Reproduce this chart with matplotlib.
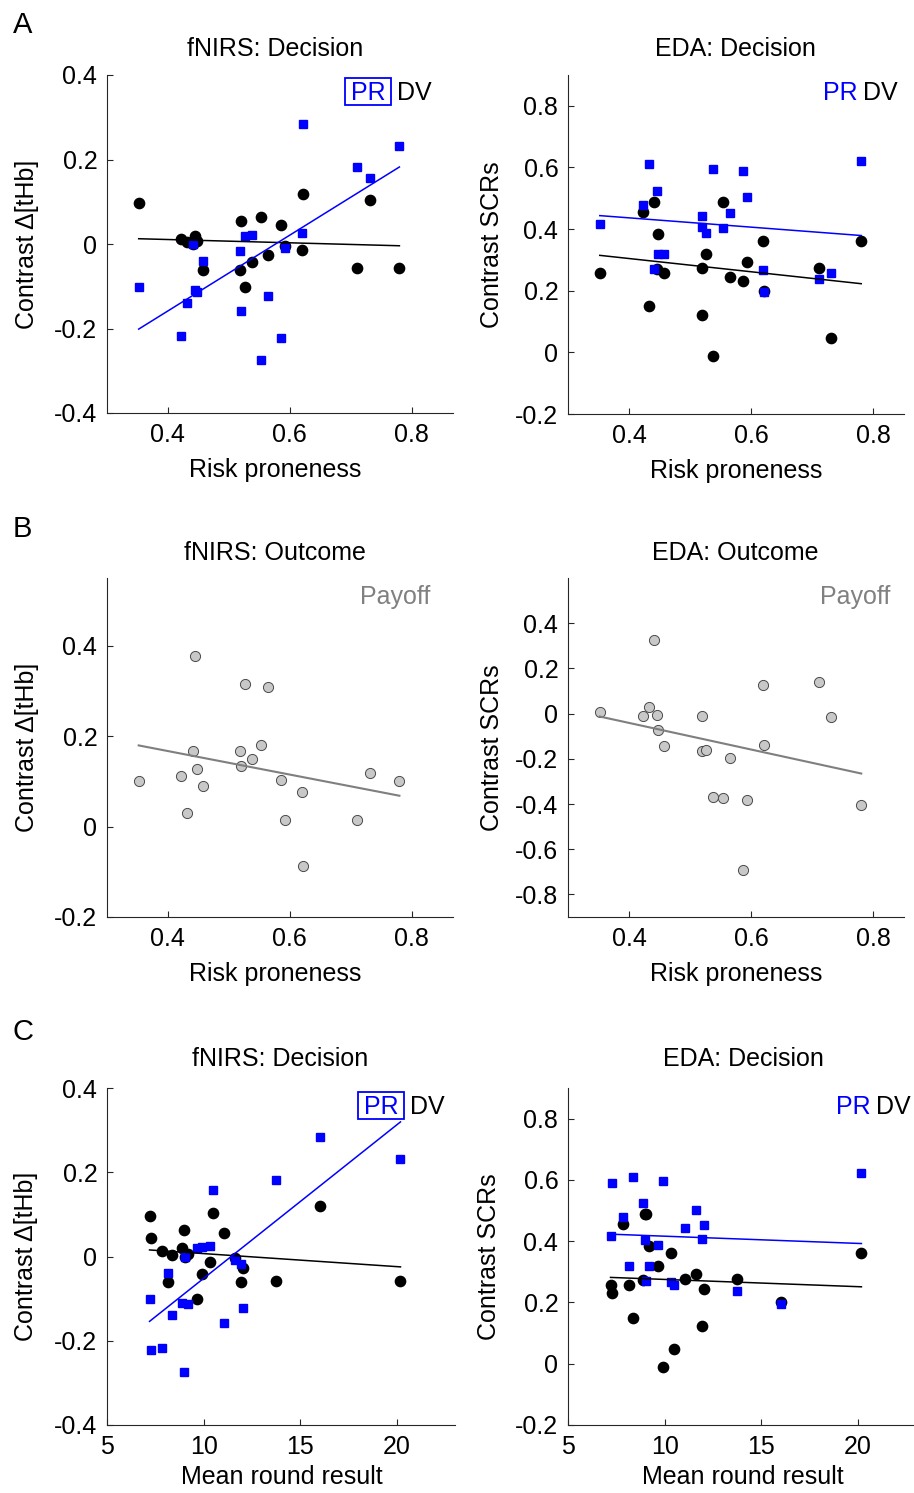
"""Risk proneness / mean round result vs. fNIRS and EDA contrasts (panels A-C)."""

import matplotlib

matplotlib.use("Agg")
import matplotlib.pyplot as plt
import numpy as np
from matplotlib.patches import Rectangle
from matplotlib.transforms import IdentityTransform

plt.rcParams["font.family"] = ["Liberation Sans", "DejaVu Sans"]
plt.rcParams["axes.unicode_minus"] = False

# One entry per participant (same order in every array)
RISK_PRONENESS = [0.352, 0.422, 0.432, 0.441, 0.445, 0.447, 0.457, 0.519, 0.520, 0.526,
                  0.538, 0.553, 0.565, 0.586, 0.593, 0.620, 0.621, 0.711, 0.731, 0.780]
MEAN_ROUND = [7.20, 7.84, 8.34, 9.04, 8.90, 9.18, 8.15, 11.95, 11.05, 9.68,
              9.90, 8.96, 12.01, 7.30, 11.60, 10.33, 16.00, 13.74, 10.50, 20.18]

# fNIRS decision contrast (Delta[tHb]) for the two conditions
FNIRS_PR = [-0.102, -0.217, -0.140, -0.001, -0.110, -0.113, -0.040, -0.017, -0.158, 0.020,
            0.022, -0.274, -0.123, -0.223, -0.009, 0.026, 0.284, 0.182, 0.157, 0.231]
FNIRS_DV = [0.096, 0.013, 0.004, 0.000, 0.020, 0.006, -0.061, -0.061, 0.055, -0.101,
            -0.042, 0.064, -0.027, 0.045, -0.004, -0.014, 0.119, -0.057, 0.103, -0.057]

# EDA decision contrast (SCRs)
EDA_PR = [0.418, 0.479, 0.611, 0.269, 0.525, 0.318, 0.318, 0.408, 0.444, 0.386,
          0.596, 0.404, 0.452, 0.590, 0.503, 0.267, 0.195, 0.238, 0.256, 0.621]
EDA_DV = [0.256, 0.457, 0.149, 0.489, 0.272, 0.384, 0.258, 0.122, 0.275, 0.318,
          -0.012, 0.489, 0.245, 0.232, 0.294, 0.362, 0.200, 0.275, 0.048, 0.362]

# Outcome (payoff) contrasts
FNIRS_PAYOFF = [0.100, 0.112, 0.031, 0.168, 0.378, 0.127, 0.089, 0.168, 0.133, 0.315,
                0.149, 0.181, 0.308, 0.104, 0.014, 0.077, -0.088, 0.014, 0.119, 0.100]
EDA_PAYOFF = [0.006, -0.012, 0.028, 0.326, -0.006, -0.073, -0.145, -0.009, -0.164, -0.160,
              -0.369, -0.373, -0.197, -0.690, -0.382, 0.127, -0.139, 0.142, -0.016, -0.404]

BLUE = "#0000ff"
AXCOL = "#262626"
GRAY_LINE = "#7f7f7f"
GRAY_FACE = "#c8c8c8"
GRAY_EDGE = "#4a4a4a"

W, H = 914, 1493
FS = 18
PIX = IdentityTransform()  # display pixels, origin bottom-left (dpi = 100)


def px_axes(fig, left, top, right, bottom):
    """Axes from pixel edges (origin top-left)."""
    return fig.add_axes((left / W, 1 - bottom / H, (right - left) / W, (bottom - top) / H))


def px_text(fig, x, y, s, **kw):
    """Text at image pixel position (origin top-left)."""
    return fig.text(x, H - y, s, transform=PIX, **kw)


def style(ax, xlim, ylim, yticks, xticks, ylabel, xlabel):
    ax.set_xlim(*xlim)
    ax.set_ylim(*ylim)
    ax.set_xticks(xticks)
    ax.set_yticks(yticks)
    ax.set_xticklabels([f"{t:g}" for t in xticks])
    ax.set_yticklabels([f"{t:g}" for t in yticks])
    for s in ("top", "right"):
        ax.spines[s].set_visible(False)
    for s in ("left", "bottom"):
        ax.spines[s].set_color(AXCOL)
        ax.spines[s].set_linewidth(0.8)
    ax.tick_params(direction="in", length=4, width=0.8, colors=AXCOL,
                   labelsize=FS, pad=7, labelcolor="black")
    ax.set_ylabel(ylabel, fontsize=FS)
    ax.set_xlabel(xlabel, fontsize=FS)


def fit_line(ax, x, y, color, lw):
    x = np.asarray(x)
    k, b = np.polyfit(x, y, 1)
    xs = np.array([x.min(), x.max()])
    ax.plot(xs, k * xs + b, color=color, lw=lw, zorder=4)


def decision(ax, x, pr, dv):
    ax.plot(x, dv, "o", ms=7.4, mfc="black", mec="black", ls="none", zorder=2)
    ax.plot(x, pr, "s", ms=6.2, mfc=BLUE, mec=BLUE, ls="none", zorder=3)
    fit_line(ax, x, dv, "black", 1.1)
    fit_line(ax, x, pr, BLUE, 1.1)


def pr_dv_label(fig, x_right, baseline, boxed):
    dv = px_text(fig, x_right, baseline, "DV", ha="right", va="baseline",
                 fontsize=FS, color="black", zorder=6)
    fig.canvas.draw()
    bb = dv.get_window_extent()
    pr_right = bb.x0 - (12 if boxed else 6)
    pr = px_text(fig, pr_right, baseline, "PR", ha="right", va="baseline",
                 fontsize=FS, color=BLUE, zorder=6)
    if boxed:
        fig.canvas.draw()
        pb = pr.get_window_extent()
        fig.patches.append(Rectangle((pb.x0 - 6, H - baseline - 5), pb.width + 12, 27,
                                     transform=PIX, fill=False, ec=BLUE, lw=1.3,
                                     zorder=6))


def outcome(ax, x, y):
    ax.plot(x, y, "o", ms=7.3, mfc=GRAY_FACE, mec=GRAY_EDGE, mew=0.7, ls="none", zorder=2)
    fit_line(ax, x, y, GRAY_LINE, 1.5)


def main():
    fig = plt.figure(figsize=(W / 100, H / 100), dpi=100)
    rp_ticks = [0.4, 0.6, 0.8]
    mr_ticks = [5, 10, 15, 20]
    fnirs_lab = "Contrast \u0394[tHb]"
    eda_lab = "Contrast SCRs"

    # A
    a1 = px_axes(fig, 107, 75, 453, 413)
    style(a1, (0.3, 0.868), (-0.4, 0.4), [-0.4, -0.2, 0, 0.2, 0.4], rp_ticks,
          fnirs_lab, "Risk proneness")
    decision(a1, RISK_PRONENESS, FNIRS_PR, FNIRS_DV)

    a2 = px_axes(fig, 568, 75, 904, 414)
    style(a2, (0.3, 0.85), (-0.2, 0.9), [-0.2, 0, 0.2, 0.4, 0.6, 0.8], rp_ticks,
          eda_lab, "Risk proneness")
    decision(a2, RISK_PRONENESS, EDA_PR, EDA_DV)

    # B
    b1 = px_axes(fig, 107, 578, 453, 917)
    style(b1, (0.3, 0.868), (-0.2, 0.55), [-0.2, 0, 0.2, 0.4], rp_ticks,
          fnirs_lab, "Risk proneness")
    outcome(b1, RISK_PRONENESS, FNIRS_PAYOFF)

    b2 = px_axes(fig, 568, 578, 904, 917)
    style(b2, (0.3, 0.85), (-0.9, 0.6), [-0.8, -0.6, -0.4, -0.2, 0, 0.2, 0.4], rp_ticks,
          eda_lab, "Risk proneness")
    outcome(b2, RISK_PRONENESS, EDA_PAYOFF)

    # C
    c1 = px_axes(fig, 107, 1088, 455, 1425)
    style(c1, (5, 23), (-0.4, 0.4), [-0.4, -0.2, 0, 0.2, 0.4], mr_ticks,
          fnirs_lab, "Mean round result")
    decision(c1, MEAN_ROUND, FNIRS_PR, FNIRS_DV)

    c2 = px_axes(fig, 568, 1088, 914, 1425)
    style(c2, (5, 22.9), (-0.2, 0.9), [-0.2, 0, 0.2, 0.4, 0.6, 0.8], mr_ticks,
          eda_lab, "Mean round result")
    decision(c2, MEAN_ROUND, EDA_PR, EDA_DV)

    for a in (a1, b1, c1):
        a.yaxis.set_label_coords(-0.197, 0.5)
    for a in (a2, b2):
        a.yaxis.set_label_coords(-0.19, 0.5)
    c2.yaxis.set_label_coords(-0.194, 0.5)
    for a in (a1, b1):
        a.xaxis.set_label_coords(0.486, -0.132)
    for a in (a2, b2):
        a.xaxis.set_label_coords(0.5, -0.132)
    c1.xaxis.set_label_coords(0.503, -0.118)
    c2.xaxis.set_label_coords(0.506, -0.118)

    # panel titles (centre x, baseline y in pixels)
    for s, x, y in (("fNIRS: Decision", 275, 56), ("EDA: Decision", 735, 56),
                    ("fNIRS: Outcome", 275, 560), ("EDA: Outcome", 735, 560),
                    ("fNIRS: Decision", 280, 1066), ("EDA: Decision", 743, 1066)):
        px_text(fig, x, y, s, ha="center", va="baseline", fontsize=FS)

    pr_dv_label(fig, 432, 100, True)
    pr_dv_label(fig, 898, 100, False)
    pr_dv_label(fig, 445, 1114, True)
    pr_dv_label(fig, 911, 1114, False)
    px_text(fig, 430, 604, "Payoff", ha="right", va="baseline", fontsize=FS, color="#808080")
    px_text(fig, 890, 604, "Payoff", ha="right", va="baseline", fontsize=FS, color="#808080")

    for letter, y in (("A", 33), ("B", 537), ("C", 1040)):
        px_text(fig, 13, y, letter, fontsize=21, ha="left", va="baseline")

    fig.savefig("out.png", dpi=100)
    plt.close(fig)


if __name__ == "__main__":
    main()
